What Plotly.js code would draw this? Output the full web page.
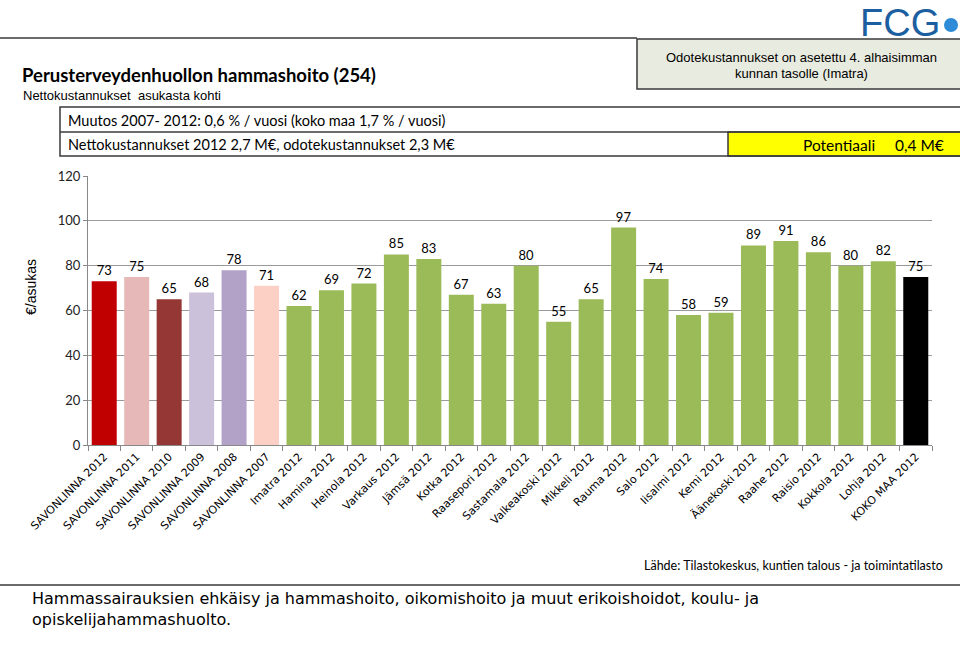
<!DOCTYPE html>
<html>
<head>
<meta charset="utf-8">
<script src="https://cdn.plot.ly/plotly-3.0.1.min.js"></script>
<style>html,body{margin:0;padding:0;background:#fff;}#chart{width:960px;height:656px;}</style>
</head>
<body>
<div id="chart"></div>
<script>
const categories = ["SAVONLINNA 2012","SAVONLINNA 2011","SAVONLINNA 2010","SAVONLINNA 2009","SAVONLINNA 2008","SAVONLINNA 2007","Imatra 2012","Hamina 2012","Heinola 2012","Varkaus 2012","Jämsä 2012","Kotka 2012","Raasepori 2012","Sastamala 2012","Valkeakoski 2012","Mikkeli 2012","Rauma 2012","Salo 2012","Iisalmi 2012","Kemi 2012","Äänekoski 2012","Raahe 2012","Raisio 2012","Kokkola 2012","Lohja 2012","KOKO MAA 2012"];
const values = [73,75,65,68,78,71,62,69,72,85,83,67,63,80,55,65,97,74,58,59,89,91,86,80,82,75];
const barColors = ["#C00000","#E6B9B8","#953735","#CCC1DA","#B3A2C7","#FCD0C4","#9BBB59","#9BBB59","#9BBB59","#9BBB59","#9BBB59","#9BBB59","#9BBB59","#9BBB59","#9BBB59","#9BBB59","#9BBB59","#9BBB59","#9BBB59","#9BBB59","#9BBB59","#9BBB59","#9BBB59","#9BBB59","#9BBB59","#000000"];
const yTicks = [0,20,40,60,80,100,120];

const L=88,R=932,T=176,B=445;
const X = px => (px-L)/(R-L);
const Y = py => (B-py)/(B-T);

const trace = {
  type:'bar', x:categories, y:values,
  marker:{color:barColors},
  text:values.map(String), textposition:'outside',
  textfont:{family:'Lato', size:13, color:'#000'},
  cliponaxis:false, hoverinfo:'none'
};

function ann(text,x,y,opts){
  return Object.assign({text:text,x:X(x),y:Y(y),xref:'paper',yref:'paper',showarrow:false,xanchor:'left',yanchor:'middle'},opts||{});
}
const lineC='#3a3a3a';
const shapes = [
  {type:'line',xref:'paper',yref:'paper',x0:X(0),x1:X(637),y0:Y(38),y1:Y(38),line:{color:lineC,width:1.5}},
  {type:'rect',xref:'paper',yref:'paper',x0:X(637),x1:X(963),y0:Y(39),y1:Y(89),fillcolor:'#E8EBDF',line:{color:lineC,width:1.5}},
  {type:'rect',xref:'paper',yref:'paper',x0:X(728),x1:X(963),y0:Y(132),y1:Y(156),fillcolor:'#FFFF00',line:{color:lineC,width:1.5}},
  {type:'rect',xref:'paper',yref:'paper',x0:X(60),x1:X(963),y0:Y(107),y1:Y(156),line:{color:lineC,width:1.5}},
  {type:'line',xref:'paper',yref:'paper',x0:X(60),x1:X(963),y0:Y(132),y1:Y(132),line:{color:lineC,width:1.5}},
  {type:'line',xref:'paper',yref:'paper',x0:X(0),x1:X(960),y0:Y(585),y1:Y(585),line:{color:lineC,width:1.5}},
  {type:'circle',xref:'paper',yref:'paper',x0:X(944),x1:X(958),y0:Y(18),y1:Y(32),fillcolor:'#2E8BD8',line:{width:0}}
];
const annotations = [
  ann('<b>Perusterveydenhuollon hammashoito (254)</b>',20,75,{font:{family:'Lato',size:18.5,color:'#000'}}),
  ann('Nettokustannukset  asukasta kohti',21,96,{font:{family:'Liberation Sans',size:13,color:'#000'}}),
  ann('Muutos 2007- 2012: 0,6 % / vuosi (koko maa 1,7 % / vuosi)',66,120,{font:{family:'Lato',size:14.5,color:'#000'}}),
  ann('Nettokustannukset 2012 2,7 M€, odotekustannukset 2,3 M€',66,144.5,{font:{family:'Lato',size:14.5,color:'#000'}}),
  ann('Potentiaali     0,4 M€',946,145,{xanchor:'right',font:{family:'Lato',size:15.5,color:'#000'}}),
  ann('Odotekustannukset on asetettu 4. alhaisimman',801,57,{xanchor:'center',font:{family:'Liberation Sans',size:13,color:'#000'}}),
  ann('kunnan tasolle (Imatra)',801,74,{xanchor:'center',font:{family:'Liberation Sans',size:13,color:'#000'}}),
  ann('FCG',858,0,{yanchor:'top',font:{family:'Liberation Sans',size:38,color:'#1C5FA0'}}),
  ann('Lähde: Tilastokeskus, kuntien talous - ja toimintatilasto',642,565,{font:{family:'Lato',size:12.5,color:'#000'}}),
  ann('Hammassairauksien ehkäisy ja hammashoito, oikomishoito ja muut erikoishoidot, koulu- ja<br>opiskelijahammashuolto.',30,587,{yanchor:'top',align:'left',font:{family:'DejaVu Sans',size:16,color:'#000'}}),
  ann('€/asukas',31,287,{xanchor:'center',textangle:-90,font:{family:'Liberation Sans',size:14,color:'#000'}})
];

const layout = {
  width:960,height:656,
  margin:{l:L,r:960-R,t:T,b:656-B,pad:0},
  paper_bgcolor:'#fff',plot_bgcolor:'#fff',
  showlegend:false,bargap:0.23,
  xaxis:{type:'category',tickangle:-45,tickson:'boundaries',ticks:'outside',ticklen:5,tickcolor:'#888',
    showline:true,linecolor:'#888',linewidth:1,showgrid:false,
    tickfont:{family:'DejaVu Sans',size:11,color:'#000'}},
  yaxis:{range:[0,120],tickvals:yTicks,ticks:'outside',ticklen:4,tickcolor:'#888',
    showline:true,linecolor:'#888',linewidth:1,gridcolor:'#9a9a9a',gridwidth:1,zeroline:false,
    tickfont:{family:'Lato',size:13,color:'#222'}},
  shapes:shapes,annotations:annotations
};
Plotly.newPlot('chart',[trace],layout,{staticPlot:true,displayModeBar:false});
</script>
</body>
</html>
